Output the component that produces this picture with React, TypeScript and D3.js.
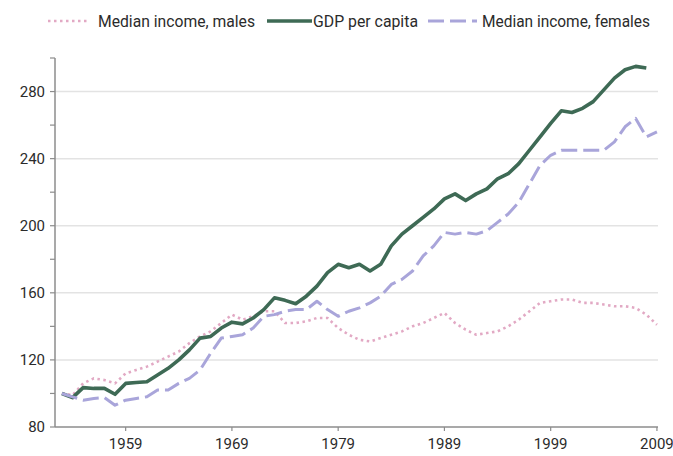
import React from 'react';
import * as d3 from 'd3';

const years = d3.range(1953, 2010);

// index 1953 = 100
const gdpPerCapita = [
  100, 97.5, 103.5, 103, 103, 99.5, 106, 106.5, 107, 111,
  115, 120, 126, 133, 134, 139, 142.5, 141.5, 145, 150,
  157, 155.5, 153.5, 158, 164, 172, 177, 175, 177, 173,
  177, 188, 195, 200, 205, 210, 216, 219, 215, 219,
  222, 228, 231, 237, 245, 253, 261, 268.5, 267.5, 270,
  274, 281, 288, 293, 295, 294,
];

const incomeMales = [
  100, 99, 106, 109, 108, 106, 112, 114, 116, 119,
  122, 125, 130, 134, 137, 142, 147, 144, 146, 149,
  149, 142, 142, 143, 145, 145, 139, 135, 132, 131,
  133, 135, 137, 140, 142, 145, 148, 142, 138, 135,
  136, 137, 140, 144, 149, 154, 155, 156, 156, 154,
  154, 153, 152, 152, 151, 147, 141,
];

const incomeFemales = [
  100, 98, 96, 97, 97.5, 93, 96, 97, 98, 102,
  102, 106, 109, 114, 124, 133, 134, 135, 139, 146,
  147, 149, 150, 150, 155, 150, 146, 149, 151, 154,
  158, 165, 168, 173, 182, 188, 196, 195, 196, 195,
  197, 202, 207, 214, 225, 236, 242, 245, 245, 245,
  245, 245, 250, 259, 264, 253, 256,
];

const yearTicks = [1959, 1969, 1979, 1989, 1999, 2009];
const valueTicks = [80, 120, 160, 200, 240, 280];
const minorTicks = [100, 140, 180, 220, 260, 300];

const series = [
  { name: 'Median income, males', values: incomeMales, color: '#e2a9c4', width: 2.6, dash: '2.5,3.5' },
  { name: 'GDP per capita', values: gdpPerCapita, color: '#3e6a55', width: 3.6, dash: null },
  { name: 'Median income, females', values: incomeFemales, color: '#a9a5da', width: 3, dash: '16,6' },
];

const W = 673;
const H = 456;
const left = 55;
const right = 658;
const top = 58;
const bottom = 427;

export default function App() {
  const x = d3.scaleLinear().domain([1952.35, 2009.1]).range([left, right]);
  const y = d3.scaleLinear().domain([80, 300]).range([bottom, top]);

  const line = d3.line<number>()
    .x((_, i) => x(years[i]))
    .y(d => y(d));

  const font = 'Roboto, "Liberation Sans", sans-serif';
  const textColor = '#2b2b2b';
  const axisColor = '#8c8c8c';

  // legend layout: sample from x0 to x1, label from tx with width tw
  const legendItems = [
    { s: series[0], x0: 48, x1: 90, tx: 98, tw: 157 },
    { s: series[1], x0: 267, x1: 312, tx: 313, tw: 105 },
    { s: series[2], x0: 428, x1: 477, tx: 482, tw: 168 },
  ];
  const legendY = 21;

  return (
    <svg width={W} height={H} style={{ position: 'absolute', left: 0, top: 0, background: '#fff' }}>
      {/* gridlines */}
      {valueTicks.filter(v => v > 80).map(v => (
        <line key={'g' + v} x1={left} x2={right} y1={y(v)} y2={y(v)} stroke="#e3e3e3" strokeWidth={1.5} />
      ))}

      {/* y axis */}
      <line x1={left} x2={left} y1={y(300)} y2={bottom} stroke={axisColor} strokeWidth={1.5} />
      {valueTicks.concat(minorTicks).map(v => (
        <line key={'t' + v} x1={left - 5} x2={left} y1={y(v)} y2={y(v)} stroke={axisColor} strokeWidth={1.2} />
      ))}
      {valueTicks.map(v => (
        <text key={'l' + v} x={left - 10} y={y(v)} dy="0.35em" textAnchor="end"
          fontFamily={font} fontSize={15} fill={textColor}>{v}</text>
      ))}

      {/* x axis */}
      <line x1={left} x2={right} y1={bottom} y2={bottom} stroke={axisColor} strokeWidth={1.5} />
      {yearTicks.map(t => (
        <g key={'x' + t}>
          <line x1={x(t)} x2={x(t)} y1={bottom} y2={bottom + 4} stroke={axisColor} strokeWidth={1.2} />
          <text x={x(t)} y={bottom + 22} textAnchor="middle" fontFamily={font} fontSize={15} fill={textColor}>{t}</text>
        </g>
      ))}

      {/* lines */}
      {series.map(s => (
        <path key={s.name} d={line(s.values) || ''} fill="none" stroke={s.color}
          strokeWidth={s.width} strokeDasharray={s.dash || undefined}
          strokeLinejoin="round" />
      ))}

      {/* legend */}
      {legendItems.map(({ s, x0, x1, tx, tw }) => (
        <g key={'lg' + s.name}>
          <line x1={x0} x2={x1} y1={legendY} y2={legendY} stroke={s.color} strokeWidth={s.width}
            strokeDasharray={s.dash || undefined} />
          <text x={tx} y={legendY} dy="0.35em" fontFamily={font} fontSize={16} fill={textColor}
            textLength={tw} lengthAdjust="spacingAndGlyphs">{s.name}</text>
        </g>
      ))}
    </svg>
  );
}
